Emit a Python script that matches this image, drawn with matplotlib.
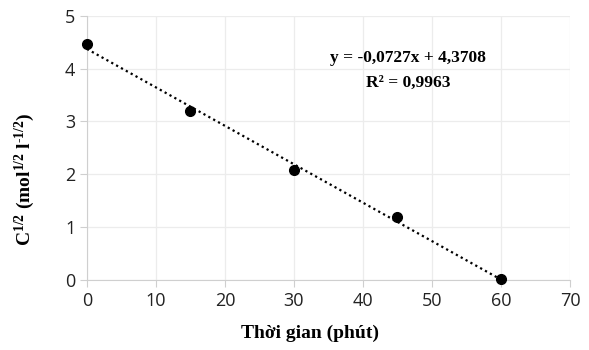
import numpy as np
import matplotlib.pyplot as plt

# data
time_min = [0, 15, 30, 45, 60]
sqrt_c = [4.47, 3.19, 2.08, 1.20, 0.01]
# linear trendline as printed on the chart
slope = -0.0727
intercept = 4.3708
r2 = 0.9963
x_ticks = [0, 10, 20, 30, 40, 50, 60, 70]
y_ticks = [0, 1, 2, 3, 4, 5]

plt.rcParams['mathtext.fontset'] = 'custom'
plt.rcParams['mathtext.rm'] = 'Liberation Serif:bold'
plt.rcParams['mathtext.it'] = 'Liberation Serif:bold'

fig = plt.figure(figsize=(5.89, 3.5), dpi=100)
ax = fig.add_axes([0.1477, 0.2, 0.82, 0.755])

grid_col = '#ececec'
ax_col = '#cfcfcf'
ax.set_xlim(0, 70)
ax.set_ylim(0, 5)
ax.set_xticks(x_ticks)
ax.set_yticks(y_ticks)
ax.grid(True, color=grid_col, linewidth=0.9)
ax.set_axisbelow(True)
for s in ax.spines.values():
    s.set_visible(False)
ax.spines['left'].set_visible(True)
ax.spines['bottom'].set_visible(True)
ax.spines['left'].set_color(ax_col)
ax.spines['bottom'].set_color(ax_col)
ax.tick_params(length=5, color=ax_col, labelsize=13, labelcolor='#222222')
for lab in ax.get_xticklabels() + ax.get_yticklabels():
    lab.set_family('Open Sans')

# trendline
xt = np.array([time_min[0], time_min[-1]])
ax.plot(xt, slope * xt + intercept, color='black', linestyle=(0, (1, 1.5)),
        linewidth=1.6, clip_on=False, zorder=3)
# points
ax.plot(time_min, sqrt_c, 'o', color='black', markersize=7, clip_on=False, zorder=4)

eq = 'y = %sx + %s' % (str(slope).replace('.', ','), str(intercept).replace('.', ','))
ax.text(46.5, 4.2, eq, ha='center', va='center', family='Liberation Serif',
        fontweight='bold', fontsize=12.5)
ax.text(46.5, 3.73, 'R² = ' + str(r2).replace('.', ','), ha='center', va='center',
        family='Liberation Serif', fontweight='bold', fontsize=12.5)

ax.set_xlabel('Thời gian (phút)', family='Liberation Serif', fontweight='bold',
              fontsize=14)
ax.xaxis.set_label_coords(0.462, -0.2)
ax.xaxis.label.set_va('center')
ax.set_ylabel(r'C$^{1/2}$ (mol$^{1/2}$ l$^{\text{-}1/2}$)', family='Liberation Serif',
              fontweight='bold', fontsize=14)
ax.yaxis.set_label_coords(-0.128, 0.38)
ax.yaxis.label.set_va('center')

plt.savefig('out.png', dpi=100)
